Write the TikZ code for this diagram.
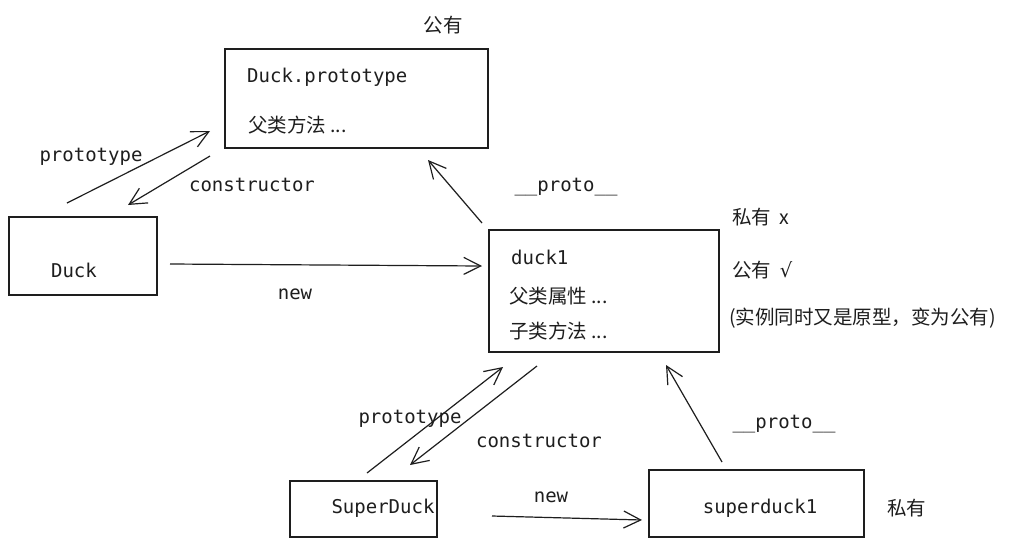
\documentclass[tikz,border=0pt]{standalone}
\usepackage{fontspec}
\setmainfont{Noto Sans CJK SC}
\setmonofont{DejaVu Sans Mono}
\usetikzlibrary{arrows.meta}
\definecolor{ink}{HTML}{1E1E1E}
\begin{document}
\begin{tikzpicture}[x=1pt,y=-1pt,
  box/.style={draw=ink,line width=1.5pt,minimum width=#1,inner sep=0pt},
  code/.style={font=\fontsize{19}{22}\selectfont\ttfamily,text=ink,inner sep=0pt},
  zh/.style={font=\fontsize{19.5}{22}\selectfont,text=ink,inner sep=0pt},
  conn/.style={draw=ink,line width=1.2pt,-{Straight Barb[length=17pt,width=17pt,line width=1.2pt]}}]
\useasboundingbox (0,0) rectangle (1028,547);
\fill[white] (0,0) rectangle (1028,547);
% boxes
\node[box=263pt,minimum height=99pt] (proto) at (356.5,98.5) {};
\node[box=148pt,minimum height=78pt] (duck) at (83,256) {};
\node[box=230pt,minimum height=122pt] (duckone) at (604,291) {};
\node[box=147pt,minimum height=56pt] (super) at (363.5,509) {};
\node[box=215pt,minimum height=67pt] (superone) at (756.5,503.5) {};
% texts in boxes
\node[code,anchor=west] (tproto) at (247,77) {Duck.prototype};
\node[zh,anchor=west] (tpm) at (248,125) {父类方法 ...};
\node[code] (tduck) at (74,270) {Duck};
\node[code,anchor=west] (tduckone) at (511,257) {duck1};
\node[zh,anchor=west] (tpa) at (509,296) {父类属性 ...};
\node[zh,anchor=west] (tcm) at (509,331) {子类方法 ...};
\node[code] (tsuper) at (383,508) {SuperDuck};
\node[code] (tsuperone) at (760,508) {superduck1};
% side notes
\node[zh] (pub1) at (443,25) {公有};
\node[zh,anchor=west] (priv1) at (732,217) {私有 \ x};
\node[zh,anchor=west] (pub2) at (732,270) {公有 \ \fontspec{DejaVu Sans}√};
\node[zh,anchor=west] (note) at (729,318) {(实例同时又是原型，变为公有)};
\node[zh,anchor=west] (priv2) at (887,508) {私有};
% connector end points
\coordinate (a1) at (67,203); \coordinate (a2) at (210,131);
\coordinate (b1) at (210,156); \coordinate (b2) at (128,205);
\coordinate (c1) at (170,264); \coordinate (c2) at (482,266);
\coordinate (d1) at (482,223); \coordinate (d2) at (428,160);
\coordinate (e1) at (367,473); \coordinate (e2) at (503,367);
\coordinate (f1) at (537,366); \coordinate (f2) at (410,465);
\coordinate (g1) at (722,462); \coordinate (g2) at (666,365);
\coordinate (h1) at (492,516); \coordinate (h2) at (642,520);
\draw[conn] (a1) -- (a2);
\draw[conn] (b1) -- (b2);
\draw[conn] (c1) -- (c2);
\draw[conn] (d1) -- (d2);
\draw[conn] (e1) -- (e2);
\draw[conn] (f1) -- (f2);
\draw[conn] (g1) -- (g2);
\draw[conn] (h1) -- (h2);
% labels
\node[code] (lproto) at (91,157) {prototype};
\node[code] (lcons) at (252,185) {constructor};
\node[code] (lnew) at (295,294) {new};
\node[code] (lpr) at (566,187) {\_\_proto\_\_};
\node[code] (lproto2) at (410,419) {prototype};
\node[code] (lcons2) at (539,441) {constructor};
\node[code] (lpr2) at (784,424) {\_\_proto\_\_};
\node[code] (lnew2) at (551,497) {new};
\end{tikzpicture}
\end{document}
